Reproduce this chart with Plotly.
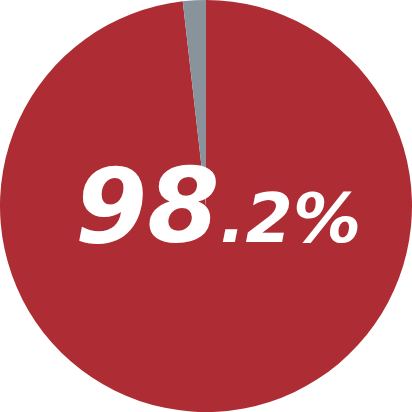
import plotly.graph_objects as go

labels = ["Share", "Other"]
values = [98.2, 1.8]
colors = ["#ae2c33", "#89939b"]
big_part = "98"
small_part = ".2%"

fig = go.Figure()
fig.add_trace(go.Pie(
    labels=labels, values=values, sort=False, direction="clockwise",
    marker=dict(colors=colors, line=dict(width=0)),
    textinfo="none", hoverinfo="none", showlegend=False,
    domain=dict(x=[0, 1], y=[0, 1]),
))

# white label, big integer part + smaller decimal
fig.add_annotation(
    x=0.53, y=0.5, xref="paper", yref="paper",
    text="<b><i>" + big_part + "<span style='font-size:68px'>" + small_part + "</span></i></b>",
    showarrow=False, font=dict(family="DejaVu Sans", size=104, color="white"),
    xanchor="center", yanchor="middle",
)

fig.update_layout(width=412, height=412, margin=dict(l=0, r=0, t=0, b=0),
                  paper_bgcolor="white", plot_bgcolor="white")
fig.write_html("out.html", config={"displayModeBar": False},
               post_script="document.body.style.margin='0';")
